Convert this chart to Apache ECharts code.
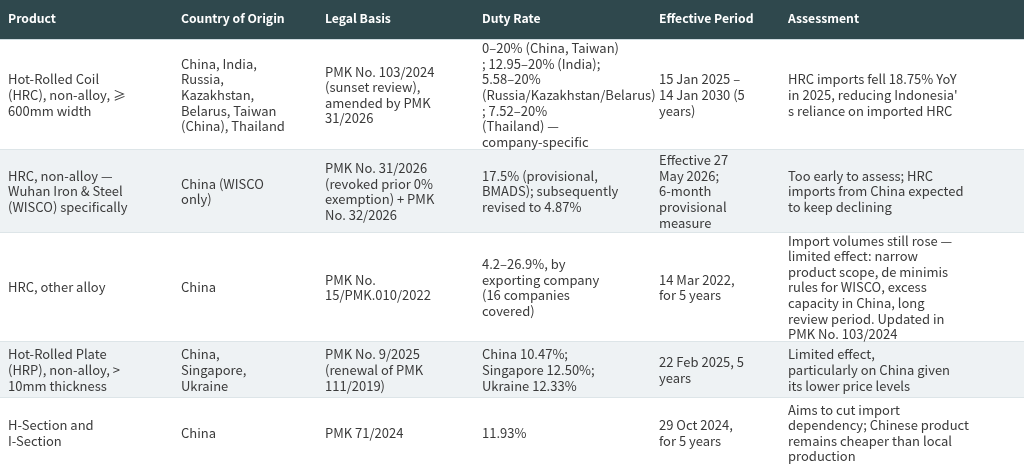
<!DOCTYPE html>
<html>
<head>
<meta charset="utf-8">
<title>Indonesia steel anti-dumping measures</title>
<script src="https://cdn.jsdelivr.net/npm/echarts@6/dist/echarts.min.js"></script>
<style>
    html, body { margin: 0; padding: 0; background: #ffffff; }
    #measures_table { width: 1024px; height: 468px; }
</style>
</head>
<body>
<div id="measures_table"></div>
<script>

// Table content
// ------------------------------

var headers = ['Product', 'Country of Origin', 'Legal Basis', 'Duty Rate', 'Effective Period', 'Assessment'];

var products = [
    'Hot-Rolled Coil\n(HRC), non-alloy, \u2265\n600mm width',
    'HRC, non-alloy \u2014\nWuhan Iron & Steel\n(WISCO) specifically',
    'HRC, other alloy',
    'Hot-Rolled Plate\n(HRP), non-alloy, >\n10mm thickness',
    'H-Section and\nI-Section'
];

var origins = [
    'China, India,\nRussia,\nKazakhstan,\nBelarus, Taiwan\n(China), Thailand',
    'China (WISCO\nonly)',
    'China',
    'China,\nSingapore,\nUkraine',
    'China'
];

var legalBasis = [
    'PMK No. 103/2024\n(sunset review),\namended by PMK\n31/2026',
    'PMK No. 31/2026\n(revoked prior 0%\nexemption) + PMK\nNo. 32/2026',
    'PMK No.\n15/PMK.010/2022',
    'PMK No. 9/2025\n(renewal of PMK\n111/2019)',
    'PMK 71/2024'
];

var dutyRates = [
    '0\u201320% (China, Taiwan)\n; 12.95\u201320% (India);\n5.58\u201320%\n(Russia/Kazakhstan/Belarus)\n; 7.52\u201320%\n(Thailand) \u2014\ncompany-specific',
    '17.5% (provisional,\nBMADS); subsequently\nrevised to 4.87%',
    '4.2\u201326.9%, by\nexporting company\n(16 companies\ncovered)',
    'China 10.47%;\nSingapore 12.50%;\nUkraine 12.33%',
    '11.93%'
];

var periods = [
    '15 Jan 2025 \u2013\n14 Jan 2030 (5\nyears)',
    'Effective 27\nMay 2026;\n6-month\nprovisional\nmeasure',
    '14 Mar 2022,\nfor 5 years',
    '22 Feb 2025, 5\nyears',
    '29 Oct 2024,\nfor 5 years'
];

var assessments = [
    'HRC imports fell 18.75% YoY\nin 2025, reducing Indonesia\'\ns reliance on imported HRC',
    'Too early to assess; HRC\nimports from China expected\nto keep declining',
    'Import volumes still rose \u2014\nlimited effect: narrow\nproduct scope, de minimis\nrules for WISCO, excess\ncapacity in China, long\nreview period. Updated in\nPMK No. 103/2024',
    'Limited effect,\nparticularly on China given\nits lower price levels',
    'Aims to cut import\ndependency; Chinese product\nremains cheaper than local\nproduction'
];


// Setup module
// ------------------------------

var MeasuresTable = function() {

    // Layout (in axis units = pixels)
    var colEdges = [0, 173, 317, 474, 651, 780, 1024];
    var rowEdges = [0, 40, 150, 233, 342, 398, 468];
    var cellPad = 8;
    var lineH = 15.6;

    var _table = function() {
        if (typeof echarts == 'undefined') {
            console.warn('Warning - echarts.min.js is not loaded.');
            return;
        }

        var el = document.getElementById('measures_table');
        if (!el) return;

        var chart = echarts.init(el, null, { renderer: 'canvas' });

        var columns = [products, origins, legalBasis, dutyRates, periods, assessments];

        // Row band data: [rowIndex]
        var rowData = [];
        for (var r = 0; r < rowEdges.length - 1; r++) {
            rowData.push([r]);
        }

        // Cell data: [colIndex, rowIndex]  (row 0 = header)
        var cellData = [];
        for (var r2 = 0; r2 <= products.length; r2++) {
            for (var c = 0; c < headers.length; c++) {
                cellData.push([c, r2]);
            }
        }

        // Watermark positions
        var marks = [];
        [[30, [160, 380, 600, 820]], [180, [55, 277, 497, 717, 937]], [335, [160, 380, 600, 820]]].forEach(function(row) {
            row[1].forEach(function(x) {
                marks.push({
                    type: 'group',
                    x: x, y: row[0],
                    rotation: Math.PI / 7,
                    silent: true,
                    z: 100,
                    children: [
                        { type: 'text', style: { text: 'SMM', x: 0, y: 0, align: 'center', verticalAlign: 'middle', font: '20px "Noto Sans CJK SC"', fill: 'rgba(150,160,165,0.2)' } },
                        { type: 'text', style: { text: 'Shanghai Metals Market', x: 16, y: 16, align: 'center', verticalAlign: 'middle', font: '7px "Noto Sans CJK SC"', fill: 'rgba(150,160,165,0.2)' } }
                    ]
                });
            });
        });

        chart.setOption({
            animation: false,
            grid: { left: 0, right: 0, top: 0, bottom: 0 },
            xAxis: { type: 'value', min: 0, max: 1024, show: false },
            yAxis: { type: 'value', min: 0, max: 468, inverse: true, show: false },
            graphic: marks,
            series: [
                // Row backgrounds
                {
                    type: 'custom',
                    data: rowData,
                    encode: { x: -1, y: -1 },
                    renderItem: function(params, api) {
                        var r = api.value(0);
                        var tl = api.coord([colEdges[0], rowEdges[r]]);
                        var br = api.coord([colEdges[colEdges.length - 1], rowEdges[r + 1]]);
                        var fill = r === 0 ? '#2f484d' : (r % 2 === 0 ? '#eef2f4' : '#ffffff');
                        var children = [{
                            type: 'rect',
                            shape: { x: tl[0], y: tl[1], width: br[0] - tl[0], height: br[1] - tl[1] },
                            style: { fill: fill }
                        }];
                        if (r < rowData.length - 1) {
                            children.push({
                                type: 'rect',
                                shape: { x: tl[0], y: br[1] - 1, width: br[0] - tl[0], height: 2 },
                                style: { fill: r === 0 ? '#cfdbe0' : '#dde5e8' }
                            });
                        }
                        return { type: 'group', children: children };
                    }
                },
                // Cell texts
                {
                    type: 'custom',
                    data: cellData,
                    encode: { x: -1, y: -1 },
                    renderItem: function(params, api) {
                        var c = api.value(0);
                        var r = api.value(1);
                        var top = api.coord([colEdges[c], rowEdges[r]]);
                        var bottom = api.coord([colEdges[c], rowEdges[r + 1]]);
                        var isHead = r === 0;
                        var text = isHead ? headers[c] : columns[c][r - 1];
                        return {
                            type: 'text',
                            style: {
                                text: text,
                                x: top[0] + cellPad,
                                y: (top[1] + bottom[1]) / 2 - (isHead ? 2 : 0),
                                align: 'left',
                                verticalAlign: 'middle',
                                fontFamily: '"Noto Sans CJK SC", "Noto Sans", sans-serif',
                                fontSize: isHead ? 12.2 : 13,
                                fontWeight: isHead ? 'bold' : 'normal',
                                lineHeight: lineH,
                                fill: isHead ? '#ffffff' : '#3a3a3a'
                            }
                        };
                    }
                }
            ]
        });

        window.addEventListener('resize', function() {
            chart.resize();
        });
    };

    return {
        init: function() {
            _table();
        }
    };
}();


// Initialize module
// ------------------------------

document.addEventListener('DOMContentLoaded', function() {
    MeasuresTable.init();
});
</script>
</body>
</html>
